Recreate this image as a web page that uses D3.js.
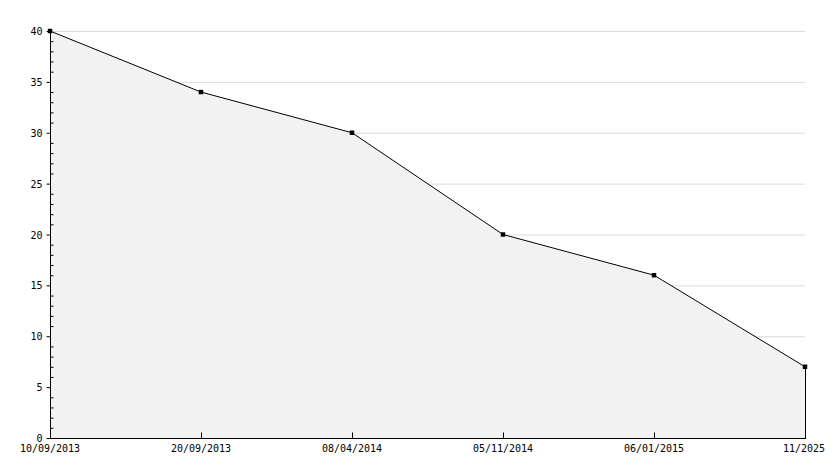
<!DOCTYPE html><html><head><meta charset="utf-8">
<script src="https://cdn.jsdelivr.net/npm/d3@7"></script>
<style>body{margin:0;background:#fff}text{font-family:"DejaVu Sans Mono",monospace;font-size:10px;fill:#000}</style></head><body>
<svg id="c" width="834" height="468"></svg>
<script>
const categories=["10/09/2013","20/09/2013","08/04/2014","05/11/2014","06/01/2015","11/2025"];
const values=[40,34,30,20,16,7];
const yTicks=[0,5,10,15,20,25,30,35,40];
const svg=d3.select("#c");
const L=50,R=805,T=31,B=438;
const x=d3.scalePoint().domain(categories).range([L,R]);
const y=d3.scaleLinear().domain([0,40]).range([B,T]);
const data=categories.map((c,i)=>({c,v:values[i]}));
svg.append("g").selectAll("line").data(yTicks.slice(1)).join("line")
 .attr("x1",L).attr("x2",R).attr("y1",d=>y(d)+.5).attr("y2",d=>y(d)+.5).attr("stroke","#dcdcdc");
svg.append("path").datum(data).attr("fill","#f2f2f2")
 .attr("d",d3.area().x(d=>x(d.c)).y0(B).y1(d=>y(d.v)));
svg.append("path").datum(data).attr("fill","none").attr("stroke","#000").attr("stroke-width",1)
 .attr("d",d3.line().x(d=>x(d.c)).y(d=>y(d.v)));
svg.append("line").attr("x1",R+.5).attr("x2",R+.5).attr("y1",y(values[values.length-1])).attr("y2",B).attr("stroke","#000");
svg.append("g").selectAll("path").data(data).join("path")
 .attr("transform",d=>`translate(${x(d.c)},${y(d.v)})`).attr("d",d3.symbol(d3.symbolSquare,20)).attr("fill","#000");
// y axis
const ya=svg.append("g").attr("transform",`translate(${L+.5},0)`);
ya.append("line").attr("y1",T-2).attr("y2",B).attr("stroke","#000");
ya.selectAll(".mj").data(yTicks).join("line").attr("x1",-4).attr("x2",0).attr("y1",d=>y(d)+.5).attr("y2",d=>y(d)+.5).attr("stroke","#000");
ya.selectAll(".mn").data(d3.range(1,40).filter(d=>d%5)).join("line").attr("class","mn").attr("x1",0).attr("x2",3).attr("y1",d=>y(d)+.5).attr("y2",d=>y(d)+.5).attr("stroke","#000");
ya.selectAll("text").data(yTicks).join("text").attr("x",-8).attr("y",d=>y(d)+4).attr("text-anchor","end").text(d=>d);
// x axis
const xa=svg.append("g").attr("transform",`translate(0,${B+.5})`);
xa.append("line").attr("x1",L).attr("x2",R+1).attr("stroke","#000");
xa.selectAll("line.t").data(categories.slice(1)).join("line").attr("class","t").attr("x1",d=>x(d)+.5).attr("x2",d=>x(d)+.5).attr("y1",-6).attr("y2",0).attr("stroke","#000");
xa.selectAll("text").data(categories).join("text").attr("x",(d,i)=>i==categories.length-1?783:x(d)).attr("y",13)
 .attr("text-anchor",(d,i)=>i==categories.length-1?"start":"middle").text(d=>d);
</script></body></html>
